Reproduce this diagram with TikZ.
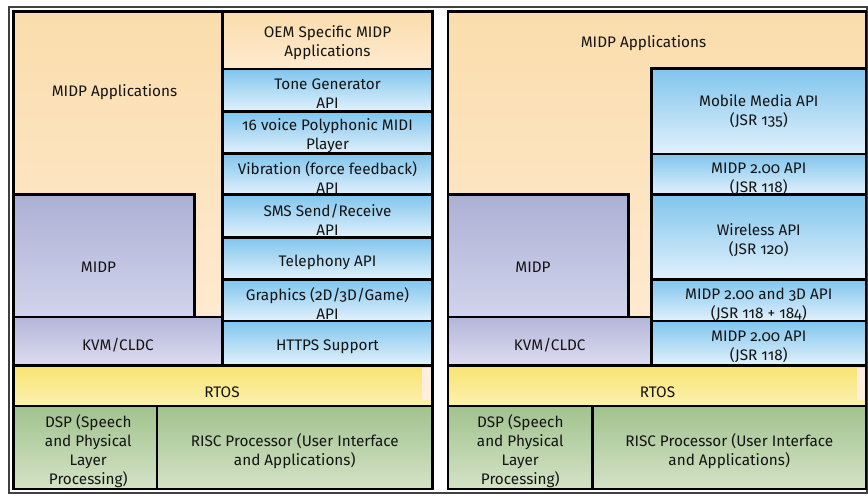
\documentclass[tikz,border=0pt]{standalone}
\usepackage{fontspec}
\setmainfont[Numbers=OldStyle]{Fira Sans}
\usetikzlibrary{fit}
\definecolor{peachT}{RGB}{250,221,172}
\definecolor{peachB}{RGB}{255,234,208}
\definecolor{blueT}{RGB}{128,197,237}
\definecolor{blueB}{RGB}{226,241,252}
\definecolor{purT}{RGB}{172,176,212}
\definecolor{purB}{RGB}{210,212,236}
\definecolor{kvmT}{RGB}{180,182,218}
\definecolor{kvmB}{RGB}{222,220,240}
\definecolor{yelT}{RGB}{249,228,112}
\definecolor{yelB}{RGB}{251,241,176}
\definecolor{grnT}{RGB}{161,194,142}
\definecolor{grnB}{RGB}{212,227,198}
\definecolor{creamC}{RGB}{253,238,222}
\definecolor{txt}{RGB}{20,20,20}
\newcommand\lblfont{\fontsize{15.3}{19}\selectfont}
\tikzset{
  blk/.style={draw=black, line width=2.6pt, inner sep=0pt},
  peach/.style={blk, top color=peachT, bottom color=peachB},
  bluebox/.style={blk, top color=blueT, bottom color=blueB},
  purbox/.style={blk, top color=purT, bottom color=purB},
  kvmbox/.style={blk, top color=kvmT, bottom color=kvmB},
  yelbox/.style={blk, top color=yelT, bottom color=yelB},
  grnbox/.style={blk, top color=grnT, bottom color=grnB},
  lbl/.style={inner sep=0pt, align=center, font=\lblfont, text=txt}
}
\begin{document}
\begin{tikzpicture}[x=1pt,y=-1pt]
\useasboundingbox (0,0) rectangle (868,501);
\fill[white] (0,0) rectangle (868,501);
\draw[line width=1.1pt, black!75] (9,7) rectangle (867,493);

% ---------- left panel ----------
\node[peach, fit={(13.5,11.5) (222.5,317)}] (appsL) {};
\node[peach, fit={(222.5,11.5) (432.5,69)}] (oemL) {};
\node[bluebox, fit={(222.5,69) (432.5,111.5)}] (toneL) {};
\node[bluebox, fit={(222.5,111.5) (432.5,153.5)}] (midiL) {};
\node[bluebox, fit={(222.5,153.5) (432.5,194.5)}] (vibL) {};
\node[bluebox, fit={(222.5,194.5) (432.5,237.5)}] (smsL) {};
\node[bluebox, fit={(222.5,237.5) (432.5,279.5)}] (telL) {};
\node[bluebox, fit={(222.5,279.5) (432.5,321)}] (gfxL) {};
\node[bluebox, fit={(222.5,321) (432.5,365.5)}] (httpsL) {};
\node[purbox, fit={(13.5,194.5) (194.5,317)}] (midpL) {};
\node[kvmbox, fit={(13.5,317) (222.5,365.5)}] (kvmL) {};
\node[yelbox, fit={(13.5,365.5) (432.5,406)}] (rtosL) {};
\fill[creamC] (421.5,367.5) rectangle (431,400);
\node[grnbox, fit={(13.5,406) (157,489)}] (dspL) {};
\node[grnbox, fit={(157,406) (432.5,489)}] (riscL) {};

\node[lbl] (appsLt) at (114.5,92) {MIDP Applications};
\node[lbl] (oemLt) at ([yshift=-2pt]oemL.center) {OEM Specific MIDP\\Applications};
\node[lbl] (toneLt) at ([yshift=-3.5pt]toneL.center) {Tone Generator\\API};
\node[lbl] (midiLt) at ([yshift=-3.5pt]midiL.center) {16 voice Polyphonic MIDI\\Player};
\node[lbl] (vibLt) at ([yshift=-3.5pt]vibL.center) {Vibration (force feedback)\\API};
\node[lbl] (smsLt) at ([yshift=-3.5pt]smsL.center) {SMS Send/Receive\\API};
\node[lbl] (telLt) at ([yshift=-4pt]telL.center) {Telephony API};
\node[lbl] (gfxLt) at ([yshift=-3.5pt]gfxL.center) {Graphics (2D/3D/Game)\\API};
\node[lbl] (httpsLt) at ([yshift=-3.5pt]httpsL.center) {HTTPS Support};
\node[lbl] (midpLt) at (98.5,267) {MIDP};
\node[lbl] (kvmLt) at ([yshift=-3.5pt]kvmL.center) {KVM/CLDC};
\node[lbl] (rtosLt) at (222,392) {RTOS};
\node[lbl] (dspLt) at ([xshift=3pt,yshift=-3.5pt]dspL.center) {DSP (Speech\\and Physical\\Layer\\Processing)};
\node[lbl] (riscLt) at ([yshift=-3.5pt]riscL.center) {RISC Processor (User Interface\\and Applications)};

% ---------- right panel ----------
\node[peach, fit={(448,11.5) (866,317)}] (appsR) {};
\node[bluebox, fit={(651.5,68.5) (866,154)}] (mmR) {};
\node[bluebox, fit={(651.5,154) (866,194.5)}] (midp2R) {};
\node[bluebox, fit={(651.5,194.5) (866,279.5)}] (wlR) {};
\node[bluebox, fit={(651.5,279.5) (866,321)}] (m3dR) {};
\node[bluebox, fit={(651.5,321) (866,365.5)}] (midp2bR) {};
\node[purbox, fit={(448,194.5) (628.5,317)}] (midpR) {};
\node[kvmbox, fit={(448,317) (651.5,365.5)}] (kvmR) {};
\node[yelbox, fit={(448,365.5) (866,406)}] (rtosR) {};
\fill[creamC] (857,367.5) rectangle (864.7,400);
\node[grnbox, fit={(448,406) (592.5,489)}] (dspR) {};
\node[grnbox, fit={(592.5,406) (866,489)}] (riscR) {};

\node[lbl] (appsRt) at (643.5,43) {MIDP Applications};
\node[lbl] (mmRt) at ([yshift=0pt]mmR.center) {Mobile Media API\\(JSR 135)};
\node[lbl] (midp2Rt) at ([yshift=-4.5pt]midp2R.center) {MIDP 2.00 API\\(JSR 118)};
\node[lbl] (wlRt) at ([yshift=-3.5pt]wlR.center) {Wireless API\\(JSR 120)};
\node[lbl] (m3dRt) at ([yshift=-4.5pt]m3dR.center) {MIDP 2.00 and 3D API\\(JSR 118 + 184)};
\node[lbl] (midp2bRt) at ([yshift=-4pt]midp2bR.center) {MIDP 2.00 API\\(JSR 118)};
\node[lbl] (midpRt) at (533,267) {MIDP};
\node[lbl] (kvmRt) at ([yshift=-3.5pt]kvmR.center) {KVM/CLDC};
\node[lbl] (rtosRt) at (657.5,392) {RTOS};
\node[lbl] (dspRt) at ([yshift=-3.5pt]dspR.center) {DSP (Speech\\and Physical\\Layer\\Processing)};
\node[lbl] (riscRt) at ([yshift=-3.5pt]riscR.center) {RISC Processor (User Interface\\and Applications)};
\end{tikzpicture}
\end{document}
